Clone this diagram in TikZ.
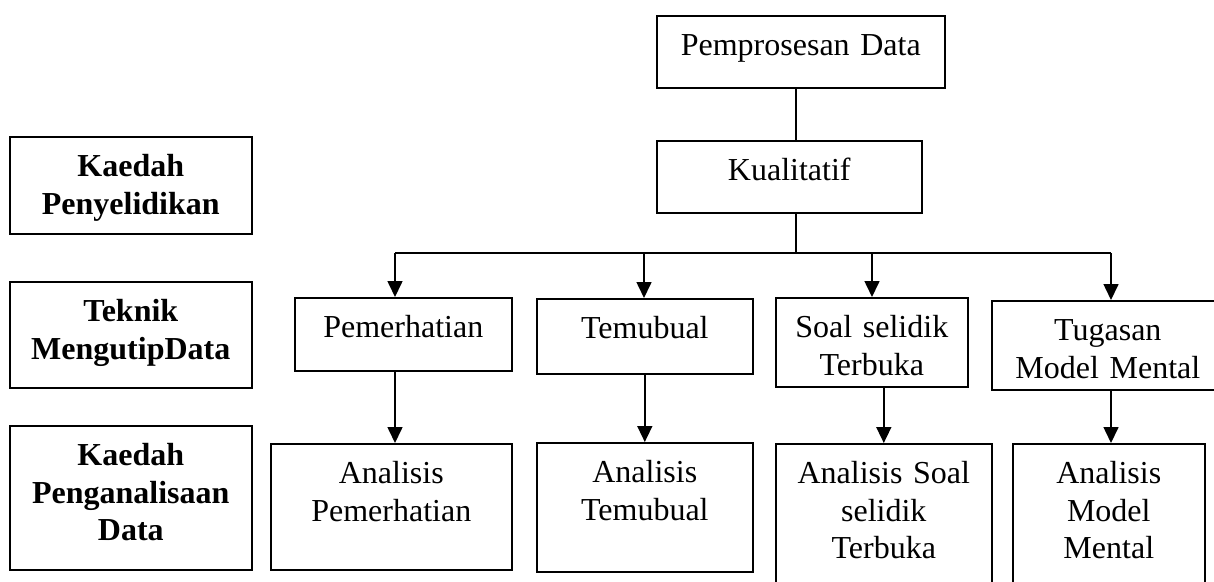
\documentclass[tikz,border=0pt]{standalone}
\usepackage{fontspec}
\setmainfont{Liberation Serif}
\usetikzlibrary{arrows.meta}

\begin{document}
\begin{tikzpicture}[x=1pt, y=-1pt,
            box/.style={draw, line width=1.6pt, anchor=north west, inner xsep=0pt, inner ysep=0pt,
                align=center, text height=40pt, font=\fontsize{32}{37.5}\selectfont},
            head/.style={box, font=\fontsize{32}{37.5}\selectfont\bfseries},
            link/.style={line width=1.6pt},
            arr/.style={link, -{Triangle[width=15pt, length=16pt]}}]
            \useasboundingbox (0,0) rectangle (1214,581);
            \clip (0,0) rectangle (1214,581);

            % Left column: row labels
            \node[head, text width=242pt, text depth=57pt] (kaedah) at (9,136) {Kaedah\\Penyelidikan};
            \node[head, text width=242pt, text depth=66pt] (teknik) at (9,281) {Teknik\\MengutipData};
            \node[head, text width=242pt, text depth=104pt] (analisa) at (9,425) {Kaedah\\Penganalisaan\\Data};

            % Top: processing and method
            \node[box, text width=288pt, text depth=32pt] (proses) at (656,15) {Pemprosesan Data};
            \node[box, text width=265pt, text depth=32pt] (kualitatif) at (656,140) {Kualitatif};

            % Row 2: data collection techniques
            \node[box, text width=217pt, text depth=33pt] (pemerhatian) at (294,297) {Pemerhatian};
            \node[box, text width=216pt, text depth=35pt] (temubual) at (536,298) {Temubual};
            \node[box, text width=192pt, text depth=49pt] (soal) at (775,297) {Soal selidik\\Terbuka};
            \node[box, text width=232pt, text depth=49pt] (tugasan) at (991,300) {Tugasan\\Model Mental};

            % Row 3: analysis
            \node[box, text width=241pt, text depth=86pt] (anpem) at (270,443) {Analisis\\Pemerhatian};
            \node[box, text width=216pt, text depth=89pt] (antem) at (536,442) {Analisis\\Temubual};
            \node[box, text width=216pt, text depth=110pt] (ansoal) at (775,443) {Analisis Soal\\selidik\\Terbuka};
            \node[box, text width=192pt, text depth=110pt] (anmodel) at (1012,443) {Analisis\\Model\\Mental};

            % Branch line
            \coordinate (bus) at (796,253);
            \coordinate (b1) at (395,253);
            \coordinate (b2) at (644,253);
            \coordinate (b3) at (872,253);
            \coordinate (b4) at (1111,253);
            \draw[link] (proses.south -| bus) -- (kualitatif.north -| bus);
            \draw[link] (kualitatif.south -| bus) -- (bus);
            \draw[link] (b1) -- (b4);
            \foreach \i/\n in {1/pemerhatian, 2/temubual, 3/soal, 4/tugasan}
                \draw[arr] (b\i) -- (b\i |- \n.north);

            % Techniques to analysis
            \draw[arr] (pemerhatian.south -| b1) -- (anpem.north -| b1);
            \draw[arr] (temubual.south) -- (antem.north);
            \draw[arr] (ansoal.north |- soal.south) -- (ansoal.north);
            \draw[arr] (tugasan.south -| b4) -- (anmodel.north -| b4);
\end{tikzpicture}
\end{document}
